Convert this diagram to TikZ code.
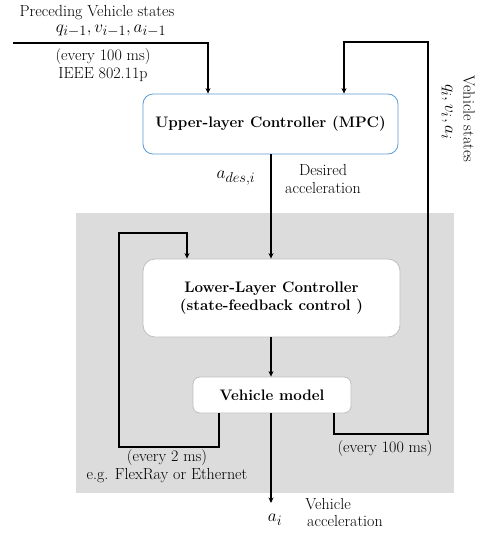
\documentclass[tikz,border=0pt]{standalone}
\usetikzlibrary{arrows.meta}
\definecolor{boxblue}{HTML}{5B9BD5}
\definecolor{panelgray}{HTML}{DCDCDC}
\definecolor{boxgray}{HTML}{BFBFBF}
\begin{document}
\begin{tikzpicture}[x=1pt,y=-1pt,
  lbl/.style={font=\fontsize{16}{18.5}\selectfont, inner sep=0pt, align=center},
  mlbl/.style={font=\fontsize{19}{21}\selectfont, inner sep=0pt},
  ctrl/.style={rounded corners=10pt, fill=white, line width=0.8pt, font=\bfseries\fontsize{15.2}{18}\selectfont, align=center, inner sep=0pt},
  conn/.style={line width=1.1pt},
  arr/.style={conn, -{Stealth[length=5.5pt,width=5pt]}}]
\useasboundingbox (0,0) rectangle (486,533);
\fill[panelgray] (76,213) rectangle (454,493);
% boxes
\node[ctrl, draw=boxblue, minimum width=255pt, minimum height=60pt] (upper) at (270.5,124) {Upper-layer Controller (MPC)};
\node[ctrl, draw=boxgray, minimum width=257pt, minimum height=78pt, rounded corners=12pt] (lower) at (271.5,298) {Lower-Layer Controller\\(state-feedback control )};
\node[ctrl, draw=boxgray, minimum width=158pt, minimum height=36pt, rounded corners=7pt] (vm) at (272,395) {Vehicle model};
% labels
\node[lbl] (prec) at (97,13) {Preceding Vehicle states};
\node[mlbl] (qprev) at (111,31) {$q_{i-1},v_{i-1},a_{i-1}$};
\node[lbl] (ev1) at (103,57) {(every 100 ms)};
\node[lbl] (ieee) at (103,75) {IEEE 802.11p};
\node[mlbl] (ades) at (236,178) {$a_{des,i}$};
\node[lbl] (desired) at (323,179) {Desired\\acceleration};
\node[lbl, rotate=-90] (vstates) at (469,119) {Vehicle states};
\node[mlbl, rotate=-90] (qi) at (447,112) {$q_i,v_i,a_i$};
\node[lbl] (ev2) at (167,466) {(every 2 ms)\\e.g. FlexRay or Ethernet};
\node[lbl] (ev3) at (385,449) {(every 100 ms)};
\node[mlbl] (ai) at (275,520) {$a_i$};
\node[lbl] (vveh) at (328,504) {Vehicle};
\node[lbl] (vacc) at (345,521) {acceleration};
% coordinates
\coordinate (s1) at (13,43);
\coordinate (c1) at (208,43);
\coordinate (r1) at (344,42);
\coordinate (r2) at (428,42);
\coordinate (r3) at (428,434);
\coordinate (r4) at (334,434);
\coordinate (l1) at (187,233);
\coordinate (l2) at (119,233);
\coordinate (l3) at (119,447);
\coordinate (l4) at (219,447);
\coordinate (out) at (271,503);
% connectors
\draw[arr] (s1) -- (c1) -- (c1 |- upper.north);
\draw[arr] (r4 |- vm.south) -- (r4) -- (r3) -- (r2) -- (r1) -- (r1 |- upper.north);
\draw[arr] (upper.south -| 271,0) -- (271,0 |- lower.north);
\draw[arr] (l4 |- vm.south) -- (l4) -- (l3) -- (l2) -- (l1) -- (l1 |- lower.north);
\draw[arr] (lower.south -| 271,0) -- (271,0 |- vm.north);
\draw[arr] (vm.south -| 271,0) -- (out);
\end{tikzpicture}
\end{document}
